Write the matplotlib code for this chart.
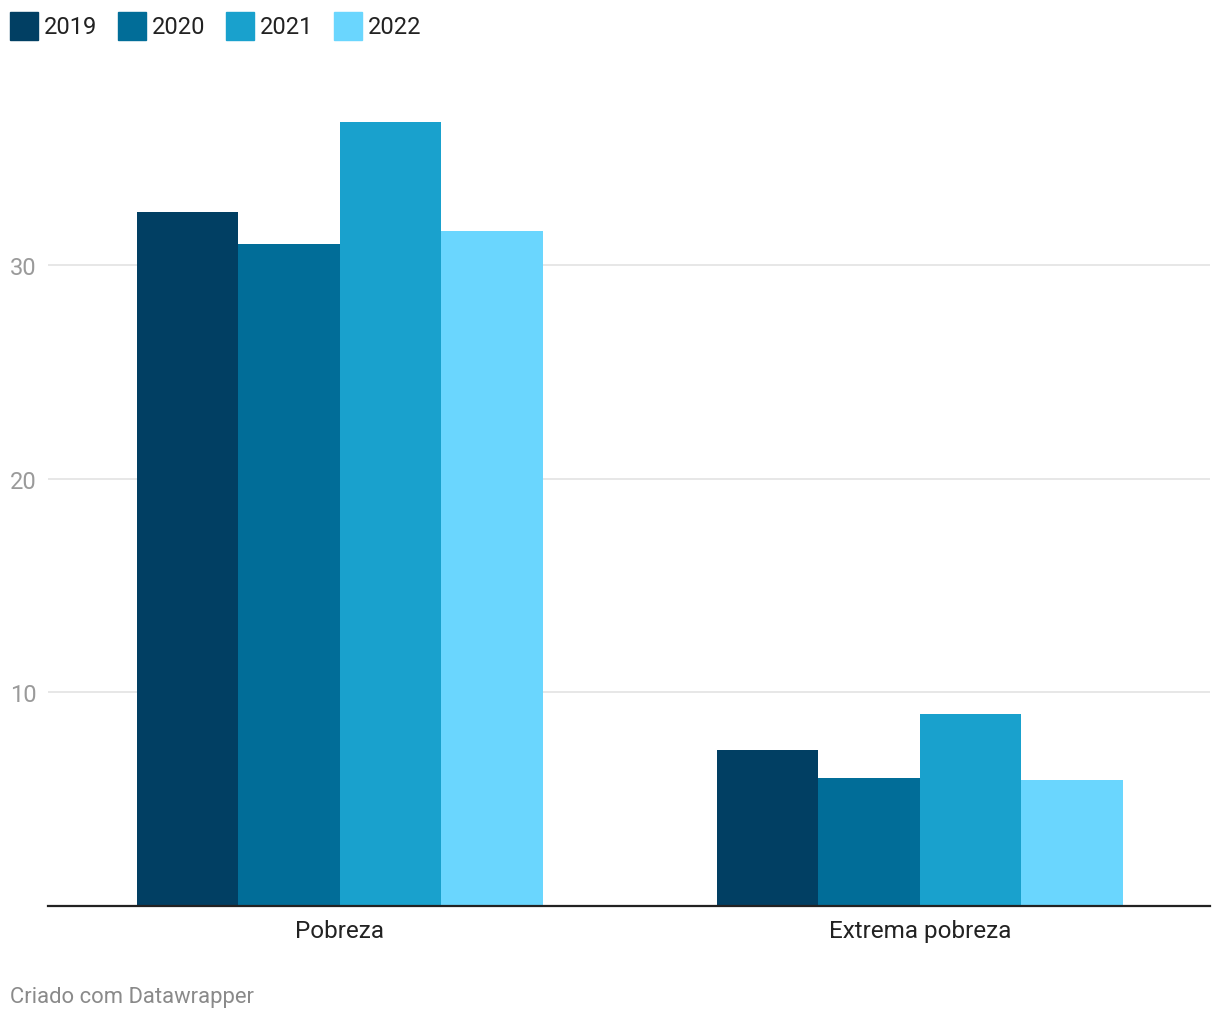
import numpy as np
import matplotlib.pyplot as plt
from matplotlib.patches import Rectangle

plt.rcParams['font.family'] = ['Roboto', 'DejaVu Sans']

categories = ['Pobreza', 'Extrema pobreza']
years = ['2019', '2020', '2021', '2022']
values = {
    '2019': [32.5, 7.3],
    '2020': [31.0, 6.0],
    '2021': [36.7, 9.0],
    '2022': [31.6, 5.9],
}
colors = ['#013f63', '#016d98', '#19a1cd', '#6ad6fe']
yticks = [10, 20, 30]

W, H = 1220, 1020
fig = plt.figure(figsize=(W / 100, H / 100), dpi=100)

# axes placed in pixel terms: plot from x=48..1210, y=80..907
left, right, top, bottom = 48, 1210, 80, 907
ax = fig.add_axes([left / W, 1 - bottom / H, (right - left) / W, (bottom - top) / H])

x = np.arange(len(categories))
bw = 0.175
for i, yr in enumerate(years):
    ax.bar(x + (i - 1.5) * bw, values[yr], width=bw, color=colors[i], zorder=3, linewidth=0)

ax.set_xlim(-0.5034, 1.5)
ax.set_ylim(0, (bottom - top) / 21.36)

ax.set_yticks(yticks)
ax.set_yticklabels([str(t) for t in yticks])
ax.tick_params(axis='y', length=0, pad=27.4, labelsize=17, labelcolor='#9a9a9a')
for lbl in ax.get_yticklabels():
    lbl.set_ha('left')
ax.grid(axis='y', color='#e3e3e3', linewidth=1.2, zorder=0)

ax.set_xticks(x)
ax.set_xticklabels(categories)
ax.tick_params(axis='x', length=0, pad=9.5, labelsize=17.5, labelcolor='#222222')

for s in ['top', 'right', 'left']:
    ax.spines[s].set_visible(False)
ax.spines['bottom'].set_color('#222222')
ax.spines['bottom'].set_linewidth(1.6)
ax.spines['bottom'].set_zorder(4)

# legend across the top
for i, yr in enumerate(years):
    x0 = 10 + i * 108
    fig.patches.append(Rectangle((x0 / W, 1 - 41 / H), 28 / W, 28 / H,
                                 transform=fig.transFigure, color=colors[i]))
    fig.text((x0 + 34) / W, 1 - 27 / H, yr, fontsize=17, color='#222222',
             va='center', ha='left')

fig.text(10 / W, 1 - 998 / H, 'Criado com Datawrapper', fontsize=15.8,
         color='#8a8a8a', va='center', ha='left')

fig.savefig('out.png', dpi=100)
